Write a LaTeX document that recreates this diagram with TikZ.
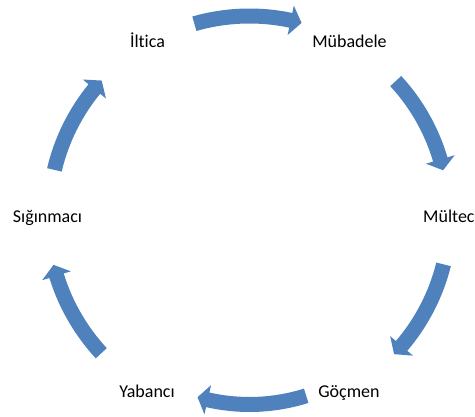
\documentclass[tikz,border=0pt]{standalone}
\usepackage{fontspec}
\setmainfont{Carlito}[Ligatures={NoCommon}]
\definecolor{arrowblue}{HTML}{4F81BD}
\tikzset{
  blockarrow/.style={fill=arrowblue, draw=none},
  lbl/.style={font=\fontsize{18}{22}\selectfont, text=black, inner sep=0pt, anchor=base}
}
% #1 tail angle, #2 tip angle, #3 mid radius (pt)
\newcommand{\cycarrow}[3]{%
  \pgfmathsetmacro{\ro}{#3+7.5}\pgfmathsetmacro{\ri}{#3-7.5}%
  \pgfmathsetmacro{\rw}{#3+15}\pgfmathsetmacro{\rv}{#3-15}%
  \pgfmathsetmacro{\hb}{#2+3.2}%
  \fill[blockarrow] ([shift={(#1:\ro pt)}]C) arc[start angle=#1, end angle=\hb, radius=\ro pt]
    -- ([shift={(\hb:\rw pt)}]C) -- ([shift={(#2:#3pt)}]C) -- ([shift={(\hb:\rv pt)}]C)
    -- ([shift={(\hb:\ri pt)}]C) arc[start angle=\hb, end angle=#1, radius=\ri pt] -- cycle;
}
\begin{document}
\begin{tikzpicture}[x=1pt,y=1pt]
\useasboundingbox (0,0) rectangle (475,416);
\clip (0,0) rectangle (475,416);
\coordinate (C) at (249.5,200);
% labels
\node[lbl] (iltica) at (147.5,368) {İltica};
\node[lbl] (mubadele) at (349.5,368) {Mübadele};
\node[lbl, anchor=base west] (multeci) at (423,193.5) {Mülteci};
\node[lbl, anchor=base west] (siginmaci) at (12.7,193.5) {Sığınmacı};
\node[lbl] (yabanci) at (147,19) {Yabancı};
\node[lbl] (gocmen) at (349,19) {Göçmen};
% curved block arrows
\cycarrow{106}{74.9}{200}
\cycarrow{42.7}{13.3}{199}
\cycarrow{346}{316.3}{200}
\cycarrow{287.5}{254}{188.5}
\cycarrow{222.8}{194}{202}
\cycarrow{166.7}{137.5}{200.5}
\end{tikzpicture}
\end{document}
